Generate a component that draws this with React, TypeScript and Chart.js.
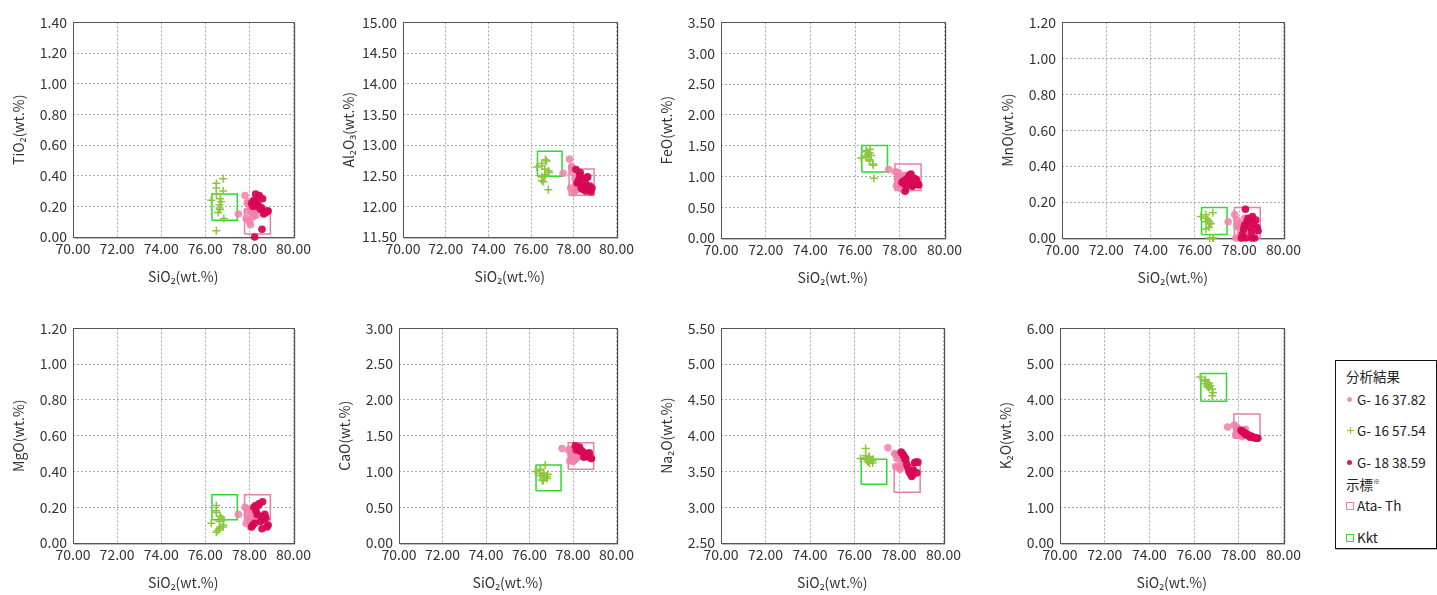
import React, { useEffect, useRef } from "react";
import { Chart, registerables } from "chart.js";

Chart.register(...registerables);

// ---------- data ----------
const SIO2_TICK_MIN = 70;
const SIO2_TICK_MAX = 80;
const SIO2_TICK_STEP = 2;

const SERIES_NAMES = ["G- 16 37.82", "G- 16 57.54", "G- 18 38.59"];
const REF_NAMES = ["Ata- Th", "Kkt"];

// G-16 37.82 (light pink dots)
const SIO2_G1637 = [77.5, 77.8, 77.85, 77.9, 77.95, 78.0, 78.05, 78.1, 78.15, 78.2, 78.25, 77.9, 78.05, 78.3];
// G-16 57.54 (green crosses)
const SIO2_G1657 = [76.81, 76.5, 76.5, 76.81, 76.27, 76.67, 76.72, 76.64, 76.67, 76.58, 76.84, 76.5, 76.5, 76.64];
// G-18 38.59 (dark pink dots)
const SIO2_G1838 = [78.28, 78.45, 78.6, 78.2, 78.1, 78.35, 78.5, 78.7, 78.85, 78.65, 78.57, 78.24, 78.4, 78.55, 78.75, 78.3, 78.15, 78.8];

const TIO2_G1637 = [0.15, 0.27, 0.12, 0.17, 0.23, 0.1, 0.2, 0.16, 0.13, 0.15, 0.19, 0.22, 0.08, 0.14];
const TIO2_G1657 = [0.38, 0.35, 0.32, 0.3, 0.24, 0.25, 0.23, 0.21, 0.18, 0.16, 0.12, 0.04, 0.28, 0.19];
const TIO2_G1838 = [0.28, 0.27, 0.25, 0.24, 0.22, 0.2, 0.18, 0.16, 0.17, 0.15, 0.05, 0.0, 0.21, 0.19, 0.16, 0.23, 0.2, 0.17];

const AL2O3_G1637 = [12.54, 12.77, 12.3, 12.63, 12.55, 12.22, 12.45, 12.35, 12.28, 12.4, 12.5, 12.65, 12.25, 12.38];
const AL2O3_G1657 = [12.27, 12.7, 12.48, 12.58, 12.64, 12.76, 12.74, 12.61, 12.52, 12.4, 12.55, 12.42, 12.66, 12.5];
const AL2O3_G1838 = [12.52, 12.33, 12.47, 12.4, 12.6, 12.3, 12.45, 12.26, 12.3, 12.48, 12.36, 12.44, 12.28, 12.25, 12.33, 12.55, 12.38, 12.24];

const FEO_G1637 = [1.11, 1.08, 0.85, 0.96, 1.06, 0.82, 1.0, 0.9, 0.78, 0.94, 1.02, 0.98, 0.88, 0.92];
const FEO_G1657 = [1.18, 1.31, 1.42, 1.2, 1.3, 1.38, 1.34, 1.27, 1.44, 1.36, 0.97, 1.4, 1.33, 1.25];
const FEO_G1838 = [0.95, 1.02, 0.86, 0.88, 0.9, 0.97, 1.04, 0.92, 0.86, 0.97, 0.84, 0.76, 1.0, 0.89, 0.95, 0.83, 0.92, 0.88];

const MNO_G1637 = [0.09, 0.13, 0.0, 0.1, 0.06, 0.0, 0.08, 0.03, 0.0, 0.05, 0.11, 0.07, 0.02, 0.04];
const MNO_G1657 = [0.0, 0.11, 0.09, 0.14, 0.12, 0.09, 0.08, 0.06, 0.0, 0.1, 0.0, 0.05, 0.13, 0.08];
const MNO_G1838 = [0.16, 0.1, 0.12, 0.05, 0.0, 0.09, 0.06, 0.0, 0.04, 0.08, 0.0, 0.07, 0.11, 0.03, 0.1, 0.0, 0.02, 0.06];

const MGO_G1637 = [0.16, 0.2, 0.11, 0.16, 0.14, 0.12, 0.18, 0.15, 0.1, 0.13, 0.17, 0.19, 0.09, 0.14];
const MGO_G1657 = [0.09, 0.21, 0.18, 0.1, 0.11, 0.15, 0.14, 0.12, 0.09, 0.07, 0.13, 0.06, 0.17, 0.08];
const MGO_G1838 = [0.21, 0.22, 0.23, 0.2, 0.09, 0.16, 0.12, 0.16, 0.1, 0.13, 0.08, 0.11, 0.21, 0.15, 0.14, 0.18, 0.1, 0.09];

const CAO_G1637 = [1.32, 1.3, 1.15, 1.25, 1.22, 1.14, 1.28, 1.2, 1.18, 1.24, 1.27, 1.31, 1.16, 1.21];
const CAO_G1657 = [0.9, 0.97, 1.02, 0.93, 1.0, 0.95, 1.09, 0.98, 0.92, 0.88, 0.96, 1.03, 0.94, 0.87];
const CAO_G1838 = [1.3, 1.27, 1.22, 1.33, 1.36, 1.28, 1.2, 1.24, 1.18, 1.25, 1.21, 1.32, 1.29, 1.23, 1.26, 1.34, 1.3, 1.19];

const NA2O_G1637 = [3.83, 3.75, 3.57, 3.68, 3.72, 3.55, 3.7, 3.62, 3.58, 3.66, 3.6, 3.74, 3.53, 3.64];
const NA2O_G1657 = [3.65, 3.68, 3.82, 3.62, 3.68, 3.71, 3.66, 3.7, 3.62, 3.64, 3.67, 3.69, 3.72, 3.63];
const NA2O_G1838 = [3.67, 3.5, 3.45, 3.73, 3.77, 3.6, 3.47, 3.62, 3.63, 3.52, 3.43, 3.7, 3.55, 3.49, 3.63, 3.68, 3.75, 3.48];

const K2O_G1637 = [3.24, 3.3, 3.02, 3.15, 3.2, 3.0, 3.12, 3.08, 2.98, 3.1, 3.14, 3.25, 3.05, 3.18];
const K2O_G1657 = [4.12, 4.57, 4.45, 4.3, 4.64, 4.47, 4.4, 4.43, 4.34, 4.38, 4.2, 4.52, 4.55, 4.36];
const K2O_G1838 = [3.05, 3.0, 2.97, 3.1, 3.15, 3.02, 2.96, 2.94, 2.93, 2.95, 2.98, 3.08, 3.03, 2.98, 2.94, 3.06, 3.12, 2.93];

// reference ranges [min, max]
const ATA_SIO2 = [77.78, 78.95];
const KKT_SIO2 = [76.3, 77.45];
const ATA_TIO2 = [0.02, 0.18];
const KKT_TIO2 = [0.11, 0.28];
const ATA_AL2O3 = [12.18, 12.61];
const KKT_AL2O3 = [12.49, 12.9];
const ATA_FEO = [0.77, 1.2];
const KKT_FEO = [1.07, 1.5];
const ATA_MNO = [0.0, 0.17];
const KKT_MNO = [0.02, 0.17];
const ATA_MGO = [0.13, 0.27];
const KKT_MGO = [0.13, 0.27];
const ATA_CAO = [1.03, 1.4];
const KKT_CAO = [0.73, 1.09];
const ATA_NA2O = [3.21, 3.59];
const KKT_NA2O = [3.32, 3.67];
const ATA_K2O = [2.93, 3.61];
const KKT_K2O = [3.96, 4.74];

// axis titles and y ranges
const Y_TITLES = ["TiO₂(wt.%)", "Al₂O₃(wt.%)", "FeO(wt.%)", "MnO(wt.%)", "MgO(wt.%)", "CaO(wt.%)", "Na₂O(wt.%)", "K₂O(wt.%)"];
const Y_MIN = [0, 11.5, 0, 0, 0, 0, 2.5, 0];
const Y_MAX = [1.4, 15, 3.5, 1.2, 1.2, 3, 5.5, 6];
const Y_STEP = [0.2, 0.5, 0.5, 0.2, 0.2, 0.5, 0.5, 1];
const X_TITLE = "SiO₂(wt.%)";

const OXIDE_G1637 = [TIO2_G1637, AL2O3_G1637, FEO_G1637, MNO_G1637, MGO_G1637, CAO_G1637, NA2O_G1637, K2O_G1637];
const OXIDE_G1657 = [TIO2_G1657, AL2O3_G1657, FEO_G1657, MNO_G1657, MGO_G1657, CAO_G1657, NA2O_G1657, K2O_G1657];
const OXIDE_G1838 = [TIO2_G1838, AL2O3_G1838, FEO_G1838, MNO_G1838, MGO_G1838, CAO_G1838, NA2O_G1838, K2O_G1838];
const ATA_Y = [ATA_TIO2, ATA_AL2O3, ATA_FEO, ATA_MNO, ATA_MGO, ATA_CAO, ATA_NA2O, ATA_K2O];
const KKT_Y = [KKT_TIO2, KKT_AL2O3, KKT_FEO, KKT_MNO, KKT_MGO, KKT_CAO, KKT_NA2O, KKT_K2O];

// ---------- layout / style ----------
const PLOT_LEFT = [73, 403, 721, 1062, 73, 399, 721, 1060];
const PLOT_RIGHT = [310, 633, 961, 1300, 310, 633, 960, 1300];
const PLOT_TOP = [14, 14, 14, 14, 320, 320, 320, 320];
const PLOT_BOTTOM = [237, 237, 238, 238, 543, 543, 543, 543];
const Y_AXIS_W = 66;
const X_AXIS_H = 52;
const PAD_TOP = 6;
const PAD_RIGHT = 4;

const FONT = "'Noto Sans CJK JP', 'Noto Sans', sans-serif";
const TEXT_COLOR = "#333";
const C_LIGHT = "rgba(242,128,168,0.85)";
const C_GREEN = "#8cc63f";
const C_DARK = "rgba(214,8,86,0.95)";
const C_ATA = "#ea7fa4";
const C_KKT = "#2ddc2d";

const pts = (xs: number[], ys: number[]) => xs.map((x, i) => ({ x, y: ys[i] }));
const rect = (xr: number[], yr: number[]) => [
  { x: xr[0], y: yr[0] },
  { x: xr[1], y: yr[0] },
  { x: xr[1], y: yr[1] },
  { x: xr[0], y: yr[1] },
  { x: xr[0], y: yr[0] },
];

const framePlugin = {
  id: "frame",
  beforeDatasetsDraw(chart: any) {
    const { ctx, chartArea } = chart;
    const { left, top, right, bottom } = chartArea;
    ctx.save();
    ctx.strokeStyle = "#bdbdbd";
    ctx.lineWidth = 1;
    ctx.beginPath();
    ctx.moveTo(left + 1, bottom + 1.5);
    ctx.lineTo(right + 1.5, bottom + 1.5);
    ctx.lineTo(right + 1.5, top + 1);
    ctx.stroke();
    ctx.strokeStyle = "#555";
    ctx.strokeRect(Math.round(left) + 0.5, Math.round(top) + 0.5, Math.round(right - left), Math.round(bottom - top));
    ctx.restore();
  },
};

function Panel({ idx }: { idx: number }) {
  const ref = useRef<HTMLCanvasElement>(null);
  const plotW = PLOT_RIGHT[idx] - PLOT_LEFT[idx];
  const plotH = PLOT_BOTTOM[idx] - PLOT_TOP[idx];
  const width = plotW + Y_AXIS_W + PAD_RIGHT;
  const height = plotH + PAD_TOP + X_AXIS_H;
  const left = PLOT_LEFT[idx] - Y_AXIS_W;
  const top = PLOT_TOP[idx] - PAD_TOP;

  useEffect(() => {
    if (!ref.current) return;
    const tickFont = { family: FONT, size: 14 };
    const chart = new Chart(ref.current, {
      type: "scatter",
      data: {
        datasets: [
          {
            label: SERIES_NAMES[2],
            data: pts(SIO2_G1838, OXIDE_G1838[idx]),
            pointStyle: "circle",
            pointRadius: 3.8,
            backgroundColor: C_DARK,
            borderWidth: 0,
            clip: false,
          },
          {
            label: SERIES_NAMES[0],
            data: pts(SIO2_G1637, OXIDE_G1637[idx]),
            pointStyle: "circle",
            pointRadius: 3.8,
            backgroundColor: C_LIGHT,
            borderWidth: 0,
            clip: false,
          },
          {
            label: SERIES_NAMES[1],
            data: pts(SIO2_G1657, OXIDE_G1657[idx]),
            pointStyle: "cross",
            pointRadius: 4,
            borderColor: C_GREEN,
            backgroundColor: C_GREEN,
            borderWidth: 1.5,
            clip: false,
          },
          {
            label: REF_NAMES[0],
            data: rect(ATA_SIO2, ATA_Y[idx]),
            showLine: true,
            pointRadius: 0,
            borderColor: C_ATA,
            borderWidth: 1.5,
            fill: false,
            clip: false,
          },
          {
            label: REF_NAMES[1],
            data: rect(KKT_SIO2, KKT_Y[idx]),
            showLine: true,
            pointRadius: 0,
            borderColor: C_KKT,
            borderWidth: 1.5,
            fill: false,
            clip: false,
          },
        ] as any,
      },
      options: {
        animation: false,
        responsive: false,
        maintainAspectRatio: false,
        layout: { padding: { top: PAD_TOP, right: PAD_RIGHT, left: 0, bottom: 0 } },
        plugins: { legend: { display: false }, tooltip: { enabled: false } },
        scales: {
          x: {
            type: "linear",
            min: SIO2_TICK_MIN,
            max: SIO2_TICK_MAX,
            afterFit: (s: any) => {
              s.height = X_AXIS_H;
            },
            ticks: {
              stepSize: SIO2_TICK_STEP,
              callback: (v: any) => Number(v).toFixed(2),
              font: tickFont,
              color: TEXT_COLOR,
              padding: 3,
              maxRotation: 0,
            },
            grid: { color: "#a8a8a8", drawTicks: false, lineWidth: 1 },
            border: { display: false, dash: [2, 2] },
            title: { display: true, text: X_TITLE, font: tickFont, color: TEXT_COLOR, padding: { top: 4, bottom: 4 } },
          },
          y: {
            type: "linear",
            min: Y_MIN[idx],
            max: Y_MAX[idx],
            afterFit: (s: any) => {
              s.width = Y_AXIS_W;
            },
            ticks: {
              stepSize: Y_STEP[idx],
              callback: (v: any) => Number(v).toFixed(2),
              font: tickFont,
              color: TEXT_COLOR,
              padding: 6,
            },
            grid: { color: "#a8a8a8", drawTicks: false, lineWidth: 1 },
            border: { display: false, dash: [2, 2] },
            title: { display: true, text: Y_TITLES[idx], font: tickFont, color: TEXT_COLOR, padding: { top: 3, bottom: 3 } },
          },
        },
      } as any,
      plugins: [framePlugin],
    });
    return () => chart.destroy();
  }, [idx]);

  return (
    <div style={{ position: "absolute", left, top, width, height }}>
      <canvas ref={ref} width={width} height={height} style={{ width, height, display: "block" }} />
    </div>
  );
}

const legendText: React.CSSProperties = {
  position: "absolute",
  fontFamily: FONT,
  fontSize: 13.5,
  color: "#222",
  whiteSpace: "nowrap",
  lineHeight: "16px",
};

function Legend() {
  const row = (y: number, marker: React.ReactNode, text: string) => (
    <div style={{ ...legendText, left: 10, top: y - 8, display: "flex", alignItems: "center" }}>
      <span style={{ display: "inline-block", width: 9, height: 9, position: "relative", marginRight: 2 }}>{marker}</span>
      <span>{text}</span>
    </div>
  );
  const dot = (c: string) => (
    <span style={{ position: "absolute", left: 1, top: 2, width: 5, height: 5, borderRadius: "50%", background: c }} />
  );
  const plus = (
    <span style={{ position: "absolute", left: 0, top: 0, width: 9, height: 9 }}>
      <span style={{ position: "absolute", left: 4, top: 1, width: 1, height: 7, background: C_GREEN }} />
      <span style={{ position: "absolute", left: 1, top: 4, width: 7, height: 1, background: C_GREEN }} />
    </span>
  );
  const sq = (c: string) => (
    <span style={{ position: "absolute", left: 0, top: 1, width: 6, height: 6, border: `1px solid ${c}` }} />
  );
  return (
    <div
      style={{
        position: "absolute",
        left: 1335,
        top: 360,
        width: 100,
        height: 187,
        border: "1px solid #111",
        background: "#fff",
        boxShadow: "1px 1px 0 #bbb",
      }}
    >
      <div style={{ ...legendText, left: 10, top: 7 }}>分析結果</div>
      {row(38, dot(C_LIGHT), SERIES_NAMES[0])}
      {row(69, plus, SERIES_NAMES[1])}
      {row(101, dot(C_DARK), SERIES_NAMES[2])}
      <div style={{ ...legendText, left: 10, top: 115 }}>
        示標<sup style={{ fontSize: 7, verticalAlign: "top", lineHeight: "10px" }}>※</sup>
      </div>
      {row(144, sq(C_ATA), REF_NAMES[0])}
      {row(176, sq(C_KKT), REF_NAMES[1])}
    </div>
  );
}

export default function App() {
  useEffect(() => {
    document.body.style.overflow = "hidden";
  }, []);
  return (
    <div style={{ position: "fixed", left: 0, top: 0, width: 1437, height: 595, background: "#fff", overflow: "hidden" }}>
      {[0, 1, 2, 3, 4, 5, 6, 7].map((i) => (
        <Panel key={i} idx={i} />
      ))}
      <Legend />
    </div>
  );
}
